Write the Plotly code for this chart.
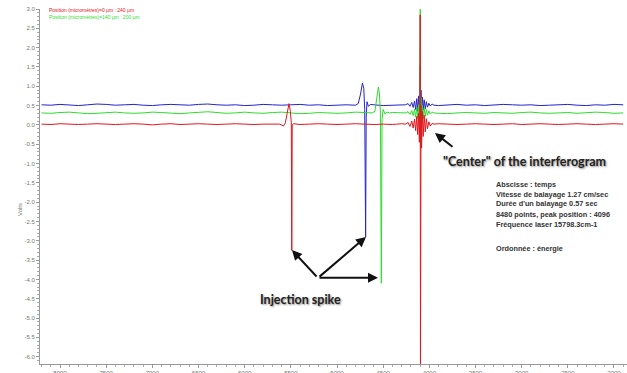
import plotly.graph_objects as go

# ---------------- data ----------------
grid_x = list(range(8200, 1899, -100))  # 64 sample positions of the baseline

blue_base = [0.52,0.51,0.53,0.52,0.50,0.52,0.54,0.53,
             0.51,0.52,0.53,0.51,0.50,0.52,0.53,0.52,
             0.51,0.53,0.54,0.52,0.51,0.52,0.50,0.51,
             0.53,0.52,0.51,0.52,0.53,0.51,0.52,0.50,
             0.51,0.52,0.51,0.53,0.52,0.50,0.51,0.52,
             0.53,0.52,0.51,0.50,0.52,0.53,0.51,0.52,
             0.50,0.51,0.53,0.52,0.51,0.52,0.50,0.51,
             0.52,0.53,0.51,0.50,0.52,0.51,0.53,0.52]
green_base = [0.31,0.30,0.32,0.33,0.31,0.29,0.30,0.32,
              0.33,0.31,0.30,0.31,0.33,0.32,0.30,0.29,
              0.31,0.32,0.34,0.32,0.30,0.31,0.33,0.31,
              0.30,0.32,0.33,0.31,0.29,0.30,0.32,0.31,
              0.30,0.31,0.33,0.32,0.30,0.31,0.32,0.30,
              0.31,0.33,0.32,0.30,0.29,0.31,0.32,0.31,
              0.30,0.32,0.31,0.30,0.32,0.33,0.31,0.30,
              0.31,0.32,0.30,0.31,0.33,0.32,0.30,0.31]
red_base = [0.02,0.01,0.03,0.02,0.01,0.02,0.03,0.02,
            0.01,0.02,0.03,0.02,0.00,0.02,0.03,0.01,
            0.02,0.03,0.02,0.01,0.02,0.03,0.02,0.01,
            0.02,0.01,0.03,0.02,0.01,0.02,0.03,0.02,
            0.01,0.02,0.03,0.02,0.01,0.02,0.01,0.03,
            0.02,0.01,0.02,0.03,0.02,0.01,0.02,0.03,
            0.02,0.01,0.02,0.03,0.01,0.02,0.03,0.02,
            0.01,0.02,0.03,0.02,0.01,0.02,0.03,0.02]

# injection spikes
blue_inj_x = [4800, 4770, 4745, 4725, 4710, 4700, 4690, 4684, 4675, 4660, 4640, 4610]
blue_inj_y = [0.51, 0.55, 0.80, 1.08, 0.95, 0.40, -2.90, 0.20, 0.60, 0.48, 0.53, 0.51]
green_inj_x = [4620, 4590, 4570, 4552, 4540, 4530, 4520, 4512, 4500, 4480, 4460, 4430]
green_inj_y = [0.31, 0.35, 0.70, 0.98, 0.80, 0.30, -4.10, 0.15, 0.40, 0.28, 0.33, 0.31]
red_inj_x = [5620, 5580, 5560, 5540, 5520, 5505, 5495, 5490, 5485, 5470, 5440]
red_inj_y = [0.02, -0.03, 0.05, 0.30, 0.55, 0.35, 0.05, -3.25, 0.00, 0.03, 0.02]

# interferogram centre (peak position 4096)
ctr_x = [4260, 4230, 4210, 4190, 4175, 4160, 4148, 4136, 4126, 4116, 4108, 4102,
         4098, 4094, 4090, 4084, 4076, 4066, 4056, 4044, 4032, 4020, 4005, 3990, 3970, 3950]
blue_ctr_y = [0.52, 0.55, 0.48, 0.58, 0.45, 0.62, 0.40, 0.68, 0.35, 0.75, 0.25, 0.95,
              1.55, -0.40, 0.90, 0.30, 0.72, 0.38, 0.65, 0.42, 0.60, 0.46, 0.56, 0.49, 0.54, 0.51]
green_ctr_y = [0.31, 0.34, 0.27, 0.37, 0.24, 0.41, 0.20, 0.46, 0.15, 0.52, 0.08, 0.70,
               3.40, -0.60, 0.70, 0.10, 0.50, 0.16, 0.44, 0.22, 0.40, 0.25, 0.36, 0.28, 0.33, 0.31]
red_ctr_x = [4260, 4230, 4210, 4190, 4175, 4160, 4148, 4136, 4126, 4116, 4108, 4102,
             4099, 4096, 4093, 4090, 4084, 4076, 4066, 4056, 4044, 4032, 4020, 4005, 3990, 3970, 3950]
red_ctr_y = [0.02, 0.06, -0.04, 0.10, -0.08, 0.15, -0.15, 0.22, -0.25, 0.30, -0.45, 0.45,
             2.85, -6.50, -1.20, 0.50, -0.60, 0.35, -0.30, 0.25, -0.18, 0.16, -0.10, 0.08, -0.03, 0.04, 0.02]

x_ticks = [8000, 7500, 7000, 6500, 6000, 5500, 5000, 4500, 4000, 3500, 3000, 2500, 2000]
y_ticks = [3.0, 2.5, 2.0, 1.5, 1.0, 0.5, 0.0, -0.5, -1.0, -1.5, -2.0, -2.5, -3.0,
           -3.5, -4.0, -4.5, -5.0, -5.5, -6.0]

legend_red = "Position (micromètres)=0 µm : 240 µm"
legend_green = "Position (micromètres)=140 µm : 200 µm"
info_lines = ["Abscisse : temps",
              "Vitesse de balayage 1.27 cm/sec",
              "Durée d'un balayage 0.57 sec",
              "8480 points, peak position : 4096",
              "Fréquence laser 15798.3cm-1",
              "Ordonnée : énergie"]


def build(base, segments):
    pts = {}
    windows = [(min(sx), max(sx)) for sx, sy in segments]
    for gx, gy in zip(grid_x, base):
        if not any(lo <= gx <= hi for lo, hi in windows):
            pts[gx] = gy
    for sx, sy in segments:
        for a, b in zip(sx, sy):
            pts[a] = b
    xs = sorted(pts, reverse=True)
    return xs, [pts[k] for k in xs]


bx, by = build(blue_base, [(blue_inj_x, blue_inj_y), (ctr_x, blue_ctr_y)])
gx_, gy_ = build(green_base, [(green_inj_x, green_inj_y), (ctr_x, green_ctr_y)])
rx, ry = build(red_base, [(red_inj_x, red_inj_y), (red_ctr_x, red_ctr_y)])

fig = go.Figure()
fig.add_trace(go.Scatter(x=bx, y=by, mode="lines", line=dict(color="#2424c8", width=1)))
fig.add_trace(go.Scatter(x=gx_, y=gy_, mode="lines", line=dict(color="#2edc2e", width=1)))
fig.add_trace(go.Scatter(x=rx, y=ry, mode="lines", line=dict(color="#e5141c", width=1)))

W, H = 627, 373
L, R, T, B = 40, 0, 9, 9
pw, ph = W - L - R, H - T - B


def px(xp):
    return (xp - L) / pw


def py(yp):
    return (H - B - yp) / ph


ann = []
ann.append(dict(text=legend_red, x=px(47), y=py(10), xref="paper", yref="paper",
                xanchor="left", yanchor="middle", showarrow=False,
                font=dict(size=5, color="#e5141c", family="Liberation Sans")))
ann.append(dict(text=legend_green, x=px(47), y=py(17), xref="paper", yref="paper",
                xanchor="left", yanchor="middle", showarrow=False,
                font=dict(size=5, color="#2edc2e", family="Liberation Sans")))
ann.append(dict(text="Volts", x=px(15), y=py(210), xref="paper", yref="paper",
                textangle=-90, showarrow=False,
                font=dict(size=6, color="#777777", family="Liberation Sans")))
ann.append(dict(text="\"Center\" of the interferogram", x=px(441), y=py(161),
                xref="paper", yref="paper", xanchor="left", yanchor="middle",
                showarrow=False,
                font=dict(size=12.5, color="#222222", family="Lato", weight="bold",
                          shadow="1px 1px 2px #888888")))
info_y = [184, 194, 204, 214, 224, 248]
for t, yy in zip(info_lines, info_y):
    ann.append(dict(text=t, x=px(494), y=py(yy), xref="paper", yref="paper",
                    xanchor="left", yanchor="middle", showarrow=False,
                    font=dict(size=7.3, color="#333333", family="Liberation Sans",
                              weight="bold")))
ann.append(dict(text="Injection spike", x=px(300), y=py(299), xref="paper", yref="paper",
                xanchor="center", yanchor="middle", showarrow=False,
                font=dict(size=12.5, color="#222222", family="Lato", weight="bold",
                          shadow="1px 1px 2px #888888")))
# arrows
arrow_style = dict(showarrow=True, arrowhead=2, arrowsize=1, arrowwidth=2,
                   arrowcolor="#111111", text="", xref="x", yref="y",
                   axref="pixel", ayref="pixel")
ann.append(dict(x=3939, y=-0.21, ax=19, ay=15, **arrow_style))
ann.append(dict(x=5488, y=-3.24, ax=26, ay=28, **arrow_style))
ann.append(dict(x=4686, y=-2.90, ax=-48, ay=41, **arrow_style))
ann.append(dict(x=4556, y=-3.96, ax=-60, ay=0, **arrow_style))

tickfont = dict(size=6, color="#777777", family="Liberation Sans")
fig.update_layout(
    width=W, height=H, margin=dict(l=L, r=R, t=T, b=B, autoexpand=False),
    paper_bgcolor="white", plot_bgcolor="white", showlegend=False,
    annotations=ann,
    xaxis=dict(range=[8217, 1859], tickmode="array", tickvals=x_ticks,
               ticktext=[str(v) for v in x_ticks], showgrid=False, zeroline=False,
               showline=True, linecolor="#999999", linewidth=1,
               ticks="outside", ticklen=3, tickcolor="#999999", tickfont=tickfont,
               minor=dict(dtick=100, ticks="outside", ticklen=2, tickcolor="#aaaaaa")),
    yaxis=dict(range=[-6.19, 3.0], tickmode="array", tickvals=y_ticks,
               ticktext=[f"{v:.1f}" for v in y_ticks], showgrid=False, zeroline=False,
               showline=True, linecolor="#999999", linewidth=1,
               ticks="outside", ticklen=3, tickcolor="#999999", tickfont=tickfont,
               minor=dict(dtick=0.1, ticks="outside", ticklen=2, tickcolor="#aaaaaa")),
)
fig.write_html("out.html", config={"displayModeBar": False},
               post_script="document.body.style.margin='0';document.body.style.overflow='hidden';")
